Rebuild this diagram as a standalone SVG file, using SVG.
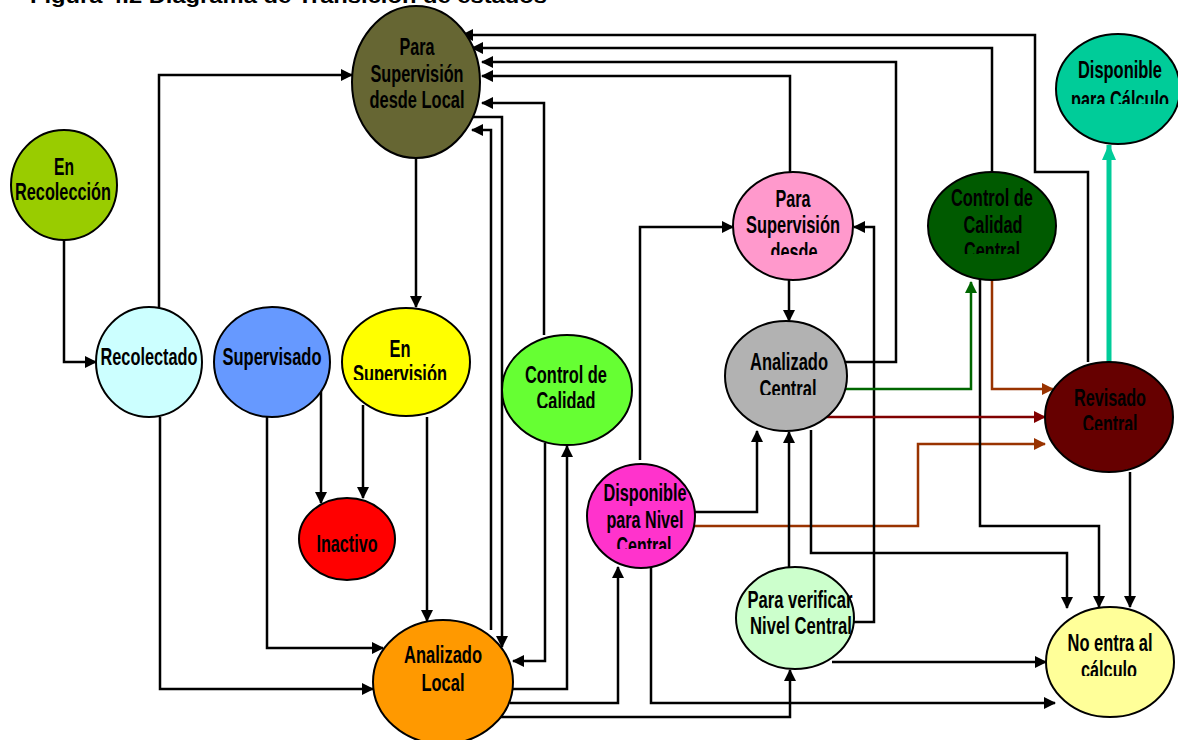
<svg xmlns="http://www.w3.org/2000/svg" width="1178" height="740" viewBox="0 0 1178 740">
<style>
.n{stroke:#000;stroke-width:2}
.t{font-family:"Liberation Sans Narrow","Liberation Sans",Arial,sans-serif;font-weight:bold;font-size:23.5px;fill:#000;text-anchor:middle}
.title{font-family:"Liberation Sans",Arial,sans-serif;font-weight:bold;font-size:20px;fill:#000}
.c{fill:none;stroke:#000;stroke-width:2.5;marker-end:url(#ab)}
.cg{fill:none;stroke:#006600;stroke-width:2.5;marker-end:url(#ag)}
.cb{fill:none;stroke:#993300;stroke-width:2.5;marker-end:url(#abr)}
.cr{fill:none;stroke:#800000;stroke-width:2.5;marker-end:url(#ar)}
.ct{fill:none;stroke:#00CC99;stroke-width:5;marker-end:url(#at)}
</style>
<defs>
<marker id="ab" viewBox="0 0 12 12" refX="11" refY="6" markerWidth="12" markerHeight="12" markerUnits="userSpaceOnUse" orient="auto"><path d="M0,0 L12,6 L0,12 z" fill="#000"/></marker>
<marker id="ag" viewBox="0 0 12 12" refX="11" refY="6" markerWidth="12" markerHeight="12" markerUnits="userSpaceOnUse" orient="auto"><path d="M0,0 L12,6 L0,12 z" fill="#006600"/></marker>
<marker id="abr" viewBox="0 0 12 12" refX="11" refY="6" markerWidth="12" markerHeight="12" markerUnits="userSpaceOnUse" orient="auto"><path d="M0,0 L12,6 L0,12 z" fill="#993300"/></marker>
<marker id="ar" viewBox="0 0 12 12" refX="11" refY="6" markerWidth="12" markerHeight="12" markerUnits="userSpaceOnUse" orient="auto"><path d="M0,0 L12,6 L0,12 z" fill="#800000"/></marker>
<marker id="at" viewBox="0 0 16 14" refX="15" refY="7" markerWidth="16" markerHeight="14" markerUnits="userSpaceOnUse" orient="auto"><path d="M0,0 L16,7 L0,14 z" fill="#00CC99"/></marker>
<clipPath id="kEnSup"><rect x="0" y="0" width="1178" height="380"/></clipPath>
<clipPath id="kCC"><rect x="0" y="0" width="1178" height="408"/></clipPath>
<clipPath id="kDN"><rect x="0" y="0" width="1178" height="549"/></clipPath>
<clipPath id="kAC"><rect x="0" y="0" width="1178" height="395"/></clipPath>
<clipPath id="kRC"><rect x="0" y="0" width="1178" height="430"/></clipPath>
<clipPath id="kNE"><rect x="0" y="0" width="1178" height="676"/></clipPath>
<clipPath id="kPV"><rect x="0" y="0" width="1178" height="634"/></clipPath>
<clipPath id="kPK"><rect x="0" y="0" width="1178" height="255"/></clipPath>
<clipPath id="kCCC"><rect x="0" y="0" width="1178" height="254"/></clipPath>
<clipPath id="kDC"><rect x="0" y="0" width="1178" height="104"/></clipPath>
</defs>
<rect width="1178" height="740" fill="#fff"/>
<text class="title" x="30" y="3" textLength="517" lengthAdjust="spacingAndGlyphs">Figura 4.2 Diagrama de Transición de estados</text>

<g id="connectors">
<path class="c" d="M159,307 V75 H352"/>
<path class="c" d="M64,240 V362 H96"/>
<path class="c" d="M160,417 V689 H373"/>
<path class="c" d="M267,417 V648 H383"/>
<path class="c" d="M321,390 V503"/>
<path class="c" d="M363,405 V498"/>
<path class="c" d="M427,417 V621"/>
<path class="c" d="M416,143 V307"/>
<path class="c" d="M468,117 H502 V647"/>
<path class="c" d="M491,630 V130 H472"/>
<path class="c" d="M544,335 V103 H482"/>
<path class="c" d="M545,443 V661 H513"/>
<path class="c" d="M512,689 H567 V446"/>
<path class="c" d="M510,703 H618 V567"/>
<path class="c" d="M500,717 H790 V670"/>
<path class="c" d="M651,566 V703 H1055"/>
<path class="c" d="M640,460 V227 H733"/>
<path class="c" d="M694,512 H757 V431"/>
<path class="cb" d="M694,526 H918 V444 H1045"/>
<path class="c" d="M789,567 V432"/>
<path class="c" d="M854,622 H874 V227 H854"/>
<path class="c" d="M832,662 H1046"/>
<path class="c" d="M811,430 V553 H1067 V608"/>
<path class="c" d="M980,280 V526 H1099 V607"/>
<path class="c" d="M1130,472 V607"/>
<path class="c" d="M789,280 V321"/>
<path class="cg" d="M846,389 H971 V282"/>
<path class="cb" d="M992,280 V389 H1053"/>
<path class="cr" d="M822,417 H1045"/>
<path class="ct" d="M1109,362 V145"/>
<path class="c" d="M790,172 V76 H482"/>
<path class="c" d="M843,362 H896 V62 H482"/>
<path class="c" d="M992,172 V48 H472"/>
<path class="c" d="M1088,362 V172 H1035 V35 H462"/>
</g>

<g id="n-olive"><ellipse class="n" cx="416" cy="82" rx="64" ry="76" fill="#666633"/>
<text class="t" x="417" y="55" textLength="35" lengthAdjust="spacingAndGlyphs">Para</text>
<text class="t" x="417" y="82" textLength="93" lengthAdjust="spacingAndGlyphs">Supervisión</text>
<text class="t" x="417" y="108" textLength="95" lengthAdjust="spacingAndGlyphs">desde Local</text></g>

<g id="n-enrecoleccion"><ellipse class="n" cx="64" cy="185" rx="53" ry="55" fill="#99CC00"/>
<text class="t" x="64" y="175" textLength="20" lengthAdjust="spacingAndGlyphs">En</text>
<text class="t" x="63" y="200" textLength="96" lengthAdjust="spacingAndGlyphs">Recolección</text></g>

<g id="n-recolectado"><ellipse class="n" cx="149" cy="362" rx="53" ry="55" fill="#CCFFFF"/>
<text class="t" x="149" y="365" textLength="97" lengthAdjust="spacingAndGlyphs">Recolectado</text></g>

<g id="n-supervisado"><ellipse class="n" cx="272" cy="362" rx="58" ry="55" fill="#6699FF"/>
<text class="t" x="272" y="365" textLength="99" lengthAdjust="spacingAndGlyphs">Supervisado</text></g>

<g id="n-ensupervision"><ellipse class="n" cx="406" cy="362" rx="64" ry="54" fill="#FFFF00"/>
<text class="t" x="400" y="357" textLength="21" lengthAdjust="spacingAndGlyphs">En</text>
<text class="t" x="400" y="382" textLength="94" lengthAdjust="spacingAndGlyphs" clip-path="url(#kEnSup)">Supervisión</text></g>

<g id="n-inactivo"><ellipse class="n" cx="347" cy="539" rx="48" ry="41" fill="#FF0000"/>
<text class="t" x="347" y="552" textLength="61" lengthAdjust="spacingAndGlyphs">Inactivo</text></g>

<g id="n-analizadolocal"><ellipse class="n" cx="443" cy="682" rx="70" ry="62" fill="#FF9900"/>
<text class="t" x="443" y="663" textLength="78" lengthAdjust="spacingAndGlyphs">Analizado</text>
<text class="t" x="443" y="691" textLength="43" lengthAdjust="spacingAndGlyphs">Local</text></g>

<g id="n-controlcalidad"><ellipse class="n" cx="567" cy="390" rx="65" ry="55" fill="#66FF33"/>
<text class="t" x="566" y="383" textLength="82" lengthAdjust="spacingAndGlyphs">Control de</text>
<text class="t" x="566" y="409" textLength="59" lengthAdjust="spacingAndGlyphs" clip-path="url(#kCC)">Calidad</text></g>

<g id="n-dispnivel"><ellipse class="n" cx="641" cy="516" rx="54" ry="52" fill="#FF33CC"/>
<text class="t" x="645" y="501" textLength="83" lengthAdjust="spacingAndGlyphs">Disponible</text>
<text class="t" x="645" y="528" textLength="77" lengthAdjust="spacingAndGlyphs">para Nivel</text>
<text class="t" x="644" y="554" textLength="55" lengthAdjust="spacingAndGlyphs" clip-path="url(#kDN)">Central</text></g>

<g id="n-parasupcentral"><ellipse class="n" cx="793" cy="226" rx="60" ry="54" fill="#FF99CC"/>
<text class="t" x="793" y="207" textLength="35" lengthAdjust="spacingAndGlyphs">Para</text>
<text class="t" x="793" y="233" textLength="94" lengthAdjust="spacingAndGlyphs">Supervisión</text>
<text class="t" x="794" y="260" textLength="47" lengthAdjust="spacingAndGlyphs" clip-path="url(#kPK)">desde</text></g>

<g id="n-analizadocentral"><ellipse class="n" cx="786" cy="376" rx="61" ry="55" fill="#B2B2B2"/>
<text class="t" x="789" y="370" textLength="78" lengthAdjust="spacingAndGlyphs">Analizado</text>
<text class="t" x="788" y="397" textLength="57" lengthAdjust="spacingAndGlyphs" clip-path="url(#kAC)">Central</text></g>

<g id="n-cccentral"><ellipse class="n" cx="992" cy="226" rx="64" ry="54" fill="#005A00"/>
<text class="t" x="992" y="206" textLength="82" lengthAdjust="spacingAndGlyphs">Control de</text>
<text class="t" x="993" y="233" textLength="59" lengthAdjust="spacingAndGlyphs">Calidad</text>
<text class="t" x="992" y="259" textLength="56" lengthAdjust="spacingAndGlyphs" clip-path="url(#kCCC)">Central</text></g>

<g id="n-dispcalculo"><ellipse class="n" cx="1118" cy="89" rx="62" ry="55" fill="#00CC99"/>
<text class="t" x="1120" y="78" textLength="84" lengthAdjust="spacingAndGlyphs">Disponible</text>
<text class="t" x="1120" y="108" textLength="98" lengthAdjust="spacingAndGlyphs" clip-path="url(#kDC)">para Cálculo</text></g>

<g id="n-revisado"><ellipse class="n" cx="1109" cy="417" rx="64" ry="55" fill="#660000"/>
<text class="t" x="1110" y="406" textLength="72" lengthAdjust="spacingAndGlyphs">Revisado</text>
<text class="t" x="1110" y="432" textLength="55" lengthAdjust="spacingAndGlyphs" clip-path="url(#kRC)">Central</text></g>

<g id="n-paraverificar"><ellipse class="n" cx="795" cy="618" rx="59" ry="51" fill="#CCFFCC"/>
<text class="t" x="800" y="608" textLength="105" lengthAdjust="spacingAndGlyphs">Para verificar</text>
<text class="t" x="801" y="634" textLength="102" lengthAdjust="spacingAndGlyphs" clip-path="url(#kPV)">Nivel Central</text></g>

<g id="n-noentra"><ellipse class="n" cx="1110" cy="662" rx="64" ry="55" fill="#FFFF99"/>
<text class="t" x="1110" y="651" textLength="85" lengthAdjust="spacingAndGlyphs">No entra al</text>
<text class="t" x="1109" y="678" textLength="56" lengthAdjust="spacingAndGlyphs" clip-path="url(#kNE)">cálculo</text></g>
</svg>
